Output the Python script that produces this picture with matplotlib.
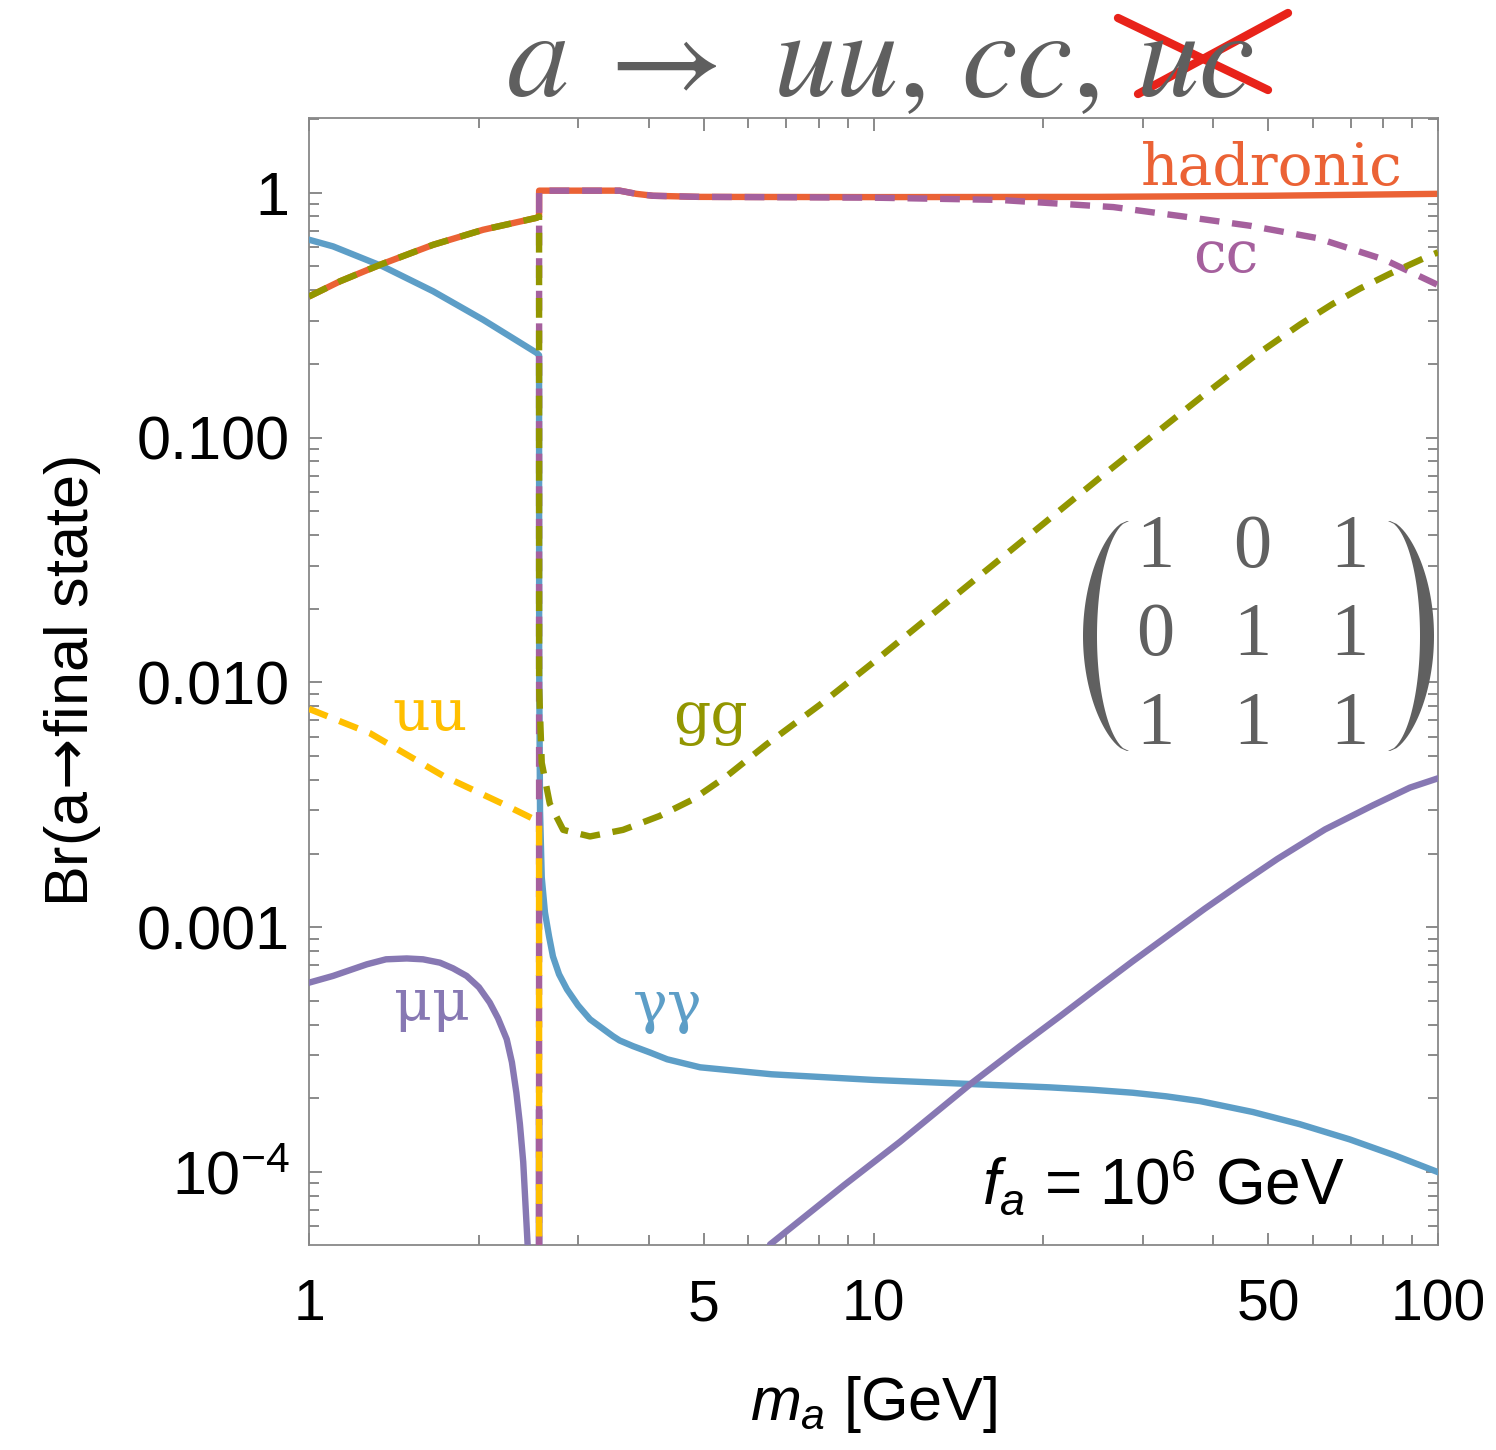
import numpy as np
import matplotlib
matplotlib.use("Agg")
import matplotlib.pyplot as plt
from matplotlib.lines import Line2D
from matplotlib.patches import Polygon
from matplotlib.ticker import FixedLocator, FixedFormatter, LogLocator, NullFormatter

W, H = 1496, 1450

# values: m_a [GeV] and branching ratio
had_m = [1.0, 1.135, 1.336, 1.659, 2.034, 2.53, 2.556, 2.5565, 3.55, 3.8, 4.07, 4.93, 10, 25, 50, 100]
had_br = [0.377, 0.435, 0.508, 0.613, 0.706, 0.79, 0.80, 1.02, 1.02, 0.99, 0.972, 0.962, 0.96, 0.962,
          0.972, 0.99]

gam_m = [1.0, 1.103, 1.352, 1.659, 2.034, 2.53, 2.556, 2.557, 2.566, 2.584, 2.618, 2.662, 2.705, 2.773,
         2.864, 2.996, 3.146, 3.456, 3.55, 3.75, 4.02, 4.31, 4.93, 6.6, 10, 14.9, 20.5, 24.4, 28.8,
         33, 37.9, 47, 56.9, 69.8, 83.9, 100]
gam_br = [0.643, 0.604, 0.5, 0.396, 0.303, 0.222, 0.217, 0.012, 0.003, 0.0016, 0.00115, 9.19e-4,
          7.6e-4, 6.43e-4, 5.58e-4, 4.8e-4, 4.21e-4, 3.59e-4, 3.45e-4, 3.27e-4, 3.08e-4, 2.89e-4,
          2.68e-4, 2.51e-4, 2.38e-4, 2.29e-4, 2.22e-4, 2.17e-4, 2.11e-4, 2.04e-4, 1.95e-4, 1.76e-4,
          1.57e-4, 1.36e-4, 1.17e-4, 1.0e-4]

mu_m = [1.0, 1.103, 1.266, 1.369, 1.49, 1.592, 1.706, 1.799, 1.902, 2.0, 2.09, 2.162, 2.24, 2.288,
        2.33, 2.364, 2.396, 2.44, 2.45, 2.555, 2.556, 2.5565,
        6.56, 8.87, 11.14, 14.92, 18.17, 21.45, 24.8, 28.8, 38.6, 44.6, 51.9, 63.07, 76.7, 89.2, 100]
mu_br = [5.94e-4, 6.33e-4, 7.06e-4, 7.4e-4, 7.46e-4, 7.4e-4, 7.17e-4, 6.8e-4, 6.33e-4, 5.69e-4,
         4.93e-4, 4.25e-4, 3.49e-4, 2.81e-4, 2.11e-4, 1.57e-4, 1.1e-4, 5e-5, 1e-7, 1e-7, 1.8e-4, 1e-8,
         5.07e-5, 8.85e-5, 1.33e-4, 2.31e-4, 3.27e-4, 4.35e-4, 5.61e-4, 7.27e-4, 1.19e-3, 1.5e-3,
         1.9e-3, 2.51e-3, 3.15e-3, 3.72e-3, 4.06e-3]

cc_m = [2.5555, 2.5565, 3.55, 3.8, 4.07, 4.93, 10, 16.7, 26.6, 35.4, 46.5, 61.1, 80.4, 100]
cc_br = [1e-8, 1.02, 1.02, 0.99, 0.972, 0.962, 0.955, 0.935, 0.874, 0.80, 0.733, 0.653, 0.533, 0.42]

gg_m = [1.0, 1.135, 1.336, 1.659, 2.034, 2.53, 2.556, 2.5565, 2.584, 2.67, 2.82, 3.146, 3.6, 4.18,
        4.79, 5.5, 6.46, 8.05, 10, 16.7, 25.2, 38, 47, 57, 65, 72.7, 82.2, 95.2, 100]
gg_br = [0.377, 0.435, 0.508, 0.613, 0.706, 0.79, 0.80, 0.0095, 0.0047, 0.0032, 0.0025, 0.00235,
         0.0025, 0.00285, 0.00333, 0.00415, 0.00558, 0.00813, 0.0121, 0.0317, 0.0687, 0.146, 0.213,
         0.290, 0.351, 0.406, 0.467, 0.545, 0.571]

uu_m = [1.0, 1.283, 1.73, 2.2, 2.556, 2.5565]
uu_br = [0.0078, 0.0062, 0.00415, 0.0032, 0.0027, 1e-8]

x_ticks = [1, 5, 10, 50, 100]
x_labels = ['1', '5', '10', '50', '100']
y_ticks = [1e-4, 1e-3, 1e-2, 1e-1, 1]
y_labels = [r'$10^{-4}$', '0.001', '0.010', '0.100', '1']
matrix = [['1', '0', '1'], ['0', '1', '1'], ['1', '1', '1']]

plt.rcParams['font.family'] = ['Liberation Sans', 'DejaVu Sans']
plt.rcParams['mathtext.fontset'] = 'custom'
plt.rcParams['mathtext.rm'] = 'Liberation Sans'
plt.rcParams['mathtext.it'] = 'Liberation Sans:italic'


def fx(px):
    return px / W


def fy(py):
    return 1 - py / H


fig = plt.figure(figsize=(W / 100, H / 100), dpi=100)
ax = fig.add_axes([fx(309), fy(1245), (1438 - 309) / W, (1245 - 118) / H])

lw = 4.6
dash = (0, (3.1, 2.0))
ax.plot(had_m, had_br, color='#EB6235', lw=lw, zorder=2)
ax.plot(gam_m, gam_br, color='#5D9EC7', lw=lw, zorder=3)
ax.plot(mu_m, mu_br, color='#8778B3', lw=lw, zorder=3)
ax.plot(cc_m, cc_br, color='#A5609D', lw=lw, ls=dash, zorder=4)
ax.plot(gg_m, gg_br, color='#929600', lw=lw, ls=dash, zorder=4)
ax.plot(uu_m, uu_br, color='#FFBF00', lw=lw, ls=dash, zorder=5)

ax.set_xscale('log')
ax.set_yscale('log')
ax.set_xlim(1, 100)
ax.set_ylim(5.04e-5, 2.02)

ax.xaxis.set_major_locator(FixedLocator(x_ticks))
ax.xaxis.set_major_formatter(FixedFormatter(x_labels))
ax.xaxis.set_minor_locator(LogLocator(base=10, subs=np.arange(2, 10), numticks=20))
ax.xaxis.set_minor_formatter(NullFormatter())
ax.yaxis.set_major_locator(FixedLocator(y_ticks))
ax.yaxis.set_major_formatter(FixedFormatter(y_labels))
ax.yaxis.set_minor_locator(LogLocator(base=10, subs=np.arange(2, 10), numticks=20))
ax.yaxis.set_minor_formatter(NullFormatter())

ax.tick_params(which='both', direction='in', top=True, right=True, color='#777777', width=1.2)
ax.tick_params(which='major', length=9)
ax.tick_params(which='minor', length=7)
ax.tick_params(axis='x', labelsize=41, pad=24)
ax.tick_params(axis='y', labelsize=44, pad=14)
for s in ax.spines.values():
    s.set_color('#888888')
    s.set_linewidth(1.3)

ax.set_xlabel(r'$m_a$ [GeV]', fontsize=44, labelpad=30)
ax.set_ylabel(r'Br(a$\!\rightarrow\!$final state)', math_fontfamily='dejavusans',
              fontsize=44, labelpad=24)

# curve labels
lab_font = 'DejaVu Serif'
fig.text(fx(1272), fy(185), 'hadronic', color='#EB6235', fontsize=42, family=lab_font, ha='center', va='baseline')
fig.text(fx(1226), fy(272), 'cc', color='#A5609D', fontsize=42, family=lab_font, ha='center', va='baseline')
fig.text(fx(711), fy(733), 'gg', color='#929600', fontsize=42, family=lab_font, ha='center', va='baseline')
fig.text(fx(430), fy(730), 'uu', color='#FFBF00', fontsize=42, family=lab_font, ha='center', va='baseline')
fig.text(fx(432), fy(1020), 'μμ', color='#8778B3', fontsize=42, family=lab_font, ha='center', va='baseline')
fig.text(fx(668), fy(1022), 'γγ', color='#5D9EC7', fontsize=42, family=lab_font, ha='center', va='baseline')

fig.text(fx(1345), fy(1205), r'$f_a$ = 10$^6$ GeV', fontsize=46, ha='right', va='baseline')

# title with the crossed-out channel
title_parts = [(506, r'$a$'), (590, r'$\rightarrow$'), (773, r'$uu,$'), (961, r'$cc,$'), (1136, r'$uc$')]
for x0, s in title_parts:
    fig.text(fx(x0), fy(96), s, math_fontfamily='stix', fontsize=90, color='#5F5F5F',
             ha='left', va='baseline')
for (x0, y0, x1, y1) in [(1118, 18, 1268, 90), (1138, 94, 1288, 13)]:
    fig.add_artist(Line2D([fx(x0), fx(x1)], [fy(y0), fy(y1)], transform=fig.transFigure,
                          color='#E8231A', lw=6, solid_capstyle='round'))

# coupling matrix
gray = '#606060'
cols = [1155, 1252, 1349]
rows = [548, 637, 726]
for i, r in enumerate(rows):
    for j, c in enumerate(cols):
        fig.text(fx(c), fy(r), matrix[i][j], fontsize=55, family='Liberation Serif',
                 color=gray, ha='center', va='center')

t = np.linspace(-1, 1, 80)
yy = 636 + 115 * t
bow = 38 * (1 - t ** 2) ** 0.6
th = 2 + 12 * (1 - t ** 2)
for side, x_end in [(-1, 1128), (1, 1389)]:
    mid = x_end + side * bow
    outer = mid + side * th / 2
    inner = mid - side * th / 2
    px = np.concatenate([outer, inner[::-1]])
    py = np.concatenate([yy, yy[::-1]])
    fig.add_artist(Polygon(np.column_stack([fx(px), fy(py)]), closed=True,
                           transform=fig.transFigure, color=gray, lw=0))

fig.savefig('out.png', dpi=100)
